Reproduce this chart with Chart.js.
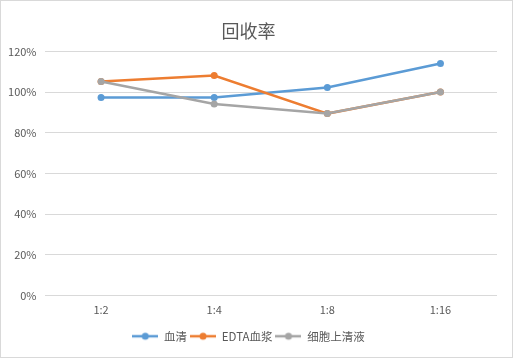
<!DOCTYPE html>
<html><head><meta charset="utf-8">
<script src="https://cdn.jsdelivr.net/npm/chart.js@4/dist/chart.umd.min.js"></script>
<style>html,body{margin:0;padding:0;background:#fff}#wrap{width:513px;height:358px;position:relative}</style>
</head><body><div id="wrap"><canvas id="c"></canvas></div>
<script>
const categories = ['1:2','1:4','1:8','1:16'];
const seriesNames = ['血清','EDTA血浆','细胞上清液'];
const serum = [97.4, 97.4, 102.3, 114.1];
const edtaPlasma = [105.3, 108.2, 89.5, 100.1];
const cellSupernatant = [105.3, 94.2, 89.5, 100.1];
const yTicks = [0, 20, 40, 60, 80, 100, 120];
const colors = ['#5B9BD5', '#ED7D31', '#A5A5A5'];
const FONT = '"Noto Sans CJK SC", "Liberation Sans", sans-serif';

function legendIcon(color){
  const cv = document.createElement('canvas');
  cv.width = 26; cv.height = 10;
  const g = cv.getContext('2d');
  g.strokeStyle = color; g.lineWidth = 2.5;
  g.beginPath(); g.moveTo(0,5); g.lineTo(26,5); g.stroke();
  g.fillStyle = color; g.beginPath(); g.arc(13,5,3.5,0,Math.PI*2); g.fill();
  return cv;
}

const frame = {
  id:'frame',
  beforeDraw(chart){
    const ctx = chart.ctx;
    ctx.save(); ctx.fillStyle='#fff'; ctx.fillRect(0,0,chart.width,chart.height);
    ctx.strokeStyle='#D9D9D9'; ctx.lineWidth=1; ctx.strokeRect(0.5,0.5,chart.width-1,chart.height-1);
    ctx.restore();
  }
};

const data = [serum, edtaPlasma, cellSupernatant];
new Chart(document.getElementById('c'), {
  type:'line',
  data:{
    labels: categories,
    datasets: seriesNames.map((n,i)=>({
      label:n, data:data[i], borderColor:colors[i], backgroundColor:colors[i],
      borderWidth:2.5, pointRadius:3.5, pointHoverRadius:3.5, pointBorderWidth:0,
      pointStyle:'circle', tension:0, order: 3-i
    }))
  },
  options:{
    responsive:true, maintainAspectRatio:false, animation:false,
    devicePixelRatio:1,
    layout:{padding:{left:0,right:16,top:20,bottom:6}},
    plugins:{
      title:{display:true,text:'回收率',color:'#595959',font:{family:FONT,size:18,weight:'normal'},padding:{top:0,bottom:10}},
      legend:{position:'bottom',
        labels:{usePointStyle:true,pointStyleWidth:26,boxHeight:10,color:'#595959',font:{family:FONT,size:11.5},padding:3,
          generateLabels(chart){
            return chart.data.datasets.map((d,i)=>({text:d.label,fillStyle:d.borderColor,strokeStyle:d.borderColor,lineWidth:0,pointStyle:legendIcon(d.borderColor),datasetIndex:i,fontColor:'#595959'}));
          }}},
      tooltip:{enabled:false}
    },
    scales:{
      x:{offset:true,grid:{display:false,drawTicks:false},border:{display:false},
        ticks:{color:'#595959',font:{family:FONT,size:11},padding:8},
        afterFit(s){s.height=32;}},
      y:{min:0,max:120,afterBuildTicks(s){s.ticks=yTicks.map(v=>({value:v}));},
        grid:{color:'#D9D9D9',drawTicks:false,lineWidth:1},border:{display:false},
        ticks:{color:'#595959',font:{family:FONT,size:11},padding:8,callback:v=>v+'%'},
        afterFit(s){s.width=44.5;}}
    }
  },
  plugins:[frame]
});
</script></body></html>
